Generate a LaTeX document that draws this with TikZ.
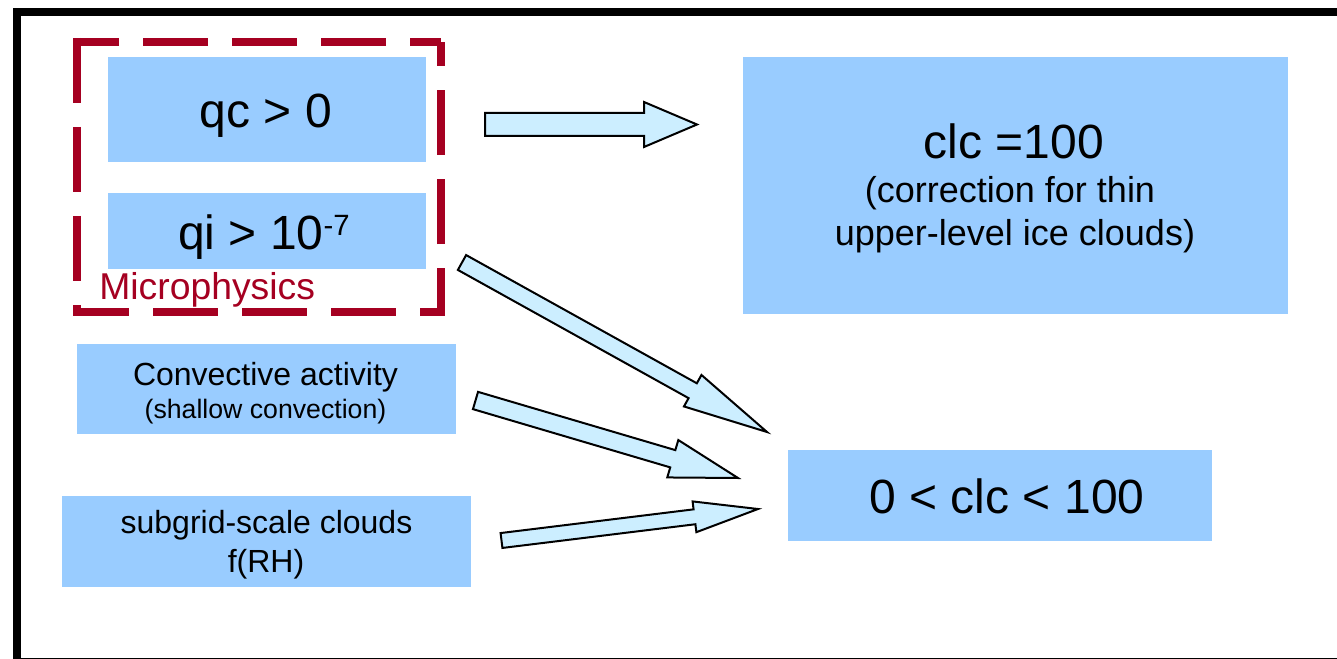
\documentclass[tikz,border=0pt]{standalone}
\usepackage{fontspec}
\setmainfont{Liberation Sans}
\usetikzlibrary{calc,fit}
\definecolor{boxblue}{HTML}{99CCFF}
\definecolor{arrowblue}{HTML}{CCEEFF}
\definecolor{microred}{HTML}{A50021}

% block arrow: tail, tip, shaft half-width, head half-width, head length
\newcommand{\flowarrow}[5]{%
  \coordinate (fa-c) at ($(#2)!#5!(#1)$);
  \draw[barrow] ($(#1)!#3!90:(#2)$) -- ($(fa-c)!#3!90:(#2)$) -- ($(fa-c)!#4!90:(#2)$)
    -- (#2) -- ($(fa-c)!#4!-90:(#2)$) -- ($(fa-c)!#3!-90:(#2)$) -- ($(#1)!#3!-90:(#2)$) -- cycle;}

\begin{document}
\begin{tikzpicture}[x=0.75pt,y=-0.75pt,
  box/.style={fill=boxblue, inner sep=0pt, draw=none},
  txtbig/.style={font=\fontsize{36pt}{41pt}\selectfont, inner sep=0pt},
  txtmid/.style={font=\fontsize{27pt}{31pt}\selectfont, inner sep=0pt},
  txtsmall/.style={font=\fontsize{24pt}{28pt}\selectfont, inner sep=0pt},
  txtnote/.style={font=\fontsize{20pt}{24pt}\selectfont, inner sep=0pt},
  barrow/.style={draw=black, fill=arrowblue, line width=1.5pt, line join=miter},
  groupframe/.style={draw=microred, line width=6pt, dash pattern=on 48.75pt off 18pt, line join=miter}]

\useasboundingbox (0,0) rectangle (1337,659);
\fill[white] (0,0) rectangle (1337,659);

% outer frame
\begin{scope}
  \clip (0,0) rectangle (1337,659);
  \draw[line width=6pt] (17,12) rectangle (1341,662);
\end{scope}

% boxes
\node[box, fit={(108,57) (426,162)}] (qcbox) {};
\node[box, fit={(108,193) (426,269)}] (qibox) {};
\node[box, fit={(743,57) (1288,314)}] (clcbox) {};
\node[box, fit={(77,344) (456,434)}] (convbox) {};
\node[box, fit={(62,496) (471,587)}] (subbox) {};
\node[box, fit={(788,450) (1212,541)}] (partbox) {};

% microphysics group: bottom and right, top, left
\draw[groupframe, dash phase=6.75pt] (73,312) -- (441,312) -- (441,42);
\draw[groupframe, dash phase=25.5pt] (441,42) -- (73,42);
\draw[groupframe] (77,38) -- (77,316);
\node[font=\fontsize{28pt}{32pt}\selectfont, text=microred, inner sep=0pt, anchor=base west] (microlabel) at (99,299) {Microphysics};

% texts
\node[txtbig, anchor=base] (qctext) at (266,128) {qc > 0};
\node[txtbig, anchor=base] (qitext) at (264,249) {qi > 10\raisebox{10pt}{\fontsize{22pt}{26pt}\selectfont -7}};
\node[txtbig, anchor=base] (clctext) at (1014,159) {clc =100};
\node[txtmid, anchor=base] (clcnote1) at (1010,203) {(correction for thin};
\node[txtmid, anchor=base] (clcnote2) at (1015,245) {upper-level ice clouds)};
\node[txtbig, anchor=base] (parttext) at (1007,513) {0 < clc < 100};
\node[txtsmall, anchor=base] (convtext) at (265.5,385) {Convective activity};
\node[txtnote, anchor=base] (convnote) at (265.5,418) {(shallow convection)};
\node[txtsmall, anchor=base] (subtext) at (266.5,533) {subgrid-scale clouds};
\node[txtsmall, anchor=base] (subnote) at (266,572) {f(RH)};

% arrows
\coordinate (a1s) at (485,124.5);   \coordinate (a1e) at (697,124.5);
\coordinate (a2s) at (462,262.5);   \coordinate (a2e) at (767,432);
\coordinate (a3s) at (475.5,400.5); \coordinate (a3e) at (738,478);
\coordinate (a4s) at (501.5,540.5); \coordinate (a4e) at (758,509);

\flowarrow{a1s}{a1e}{8.625pt}{16.875pt}{39.75pt}
\flowarrow{a2s}{a2e}{6.375pt}{13.5pt}{63.75pt}
\flowarrow{a3s}{a3e}{6.75pt}{14.625pt}{51pt}
\flowarrow{a4s}{a4e}{5.625pt}{11.625pt}{48pt}

\end{tikzpicture}
\end{document}
